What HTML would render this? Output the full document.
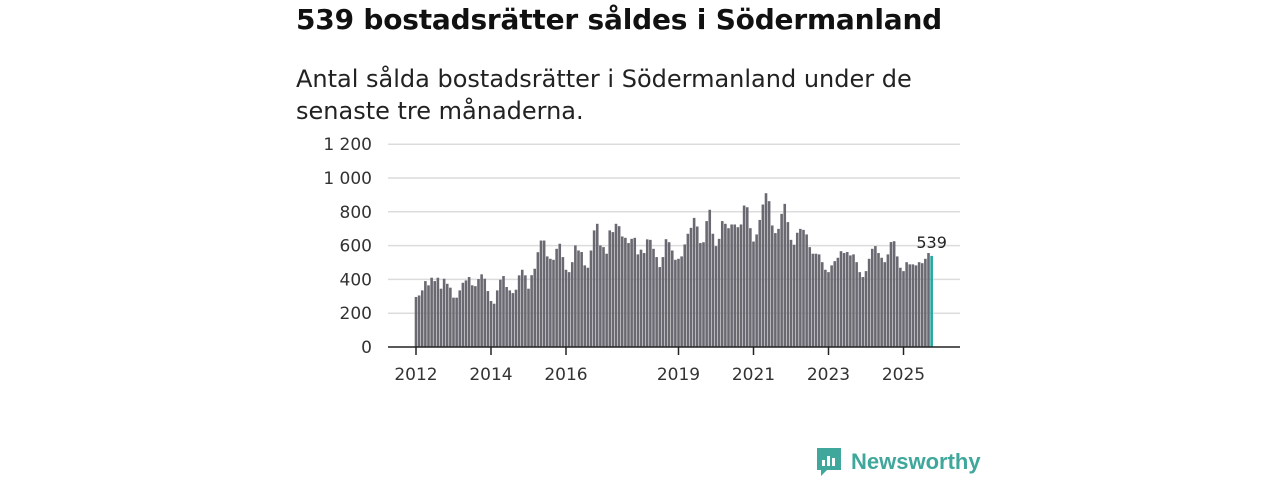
<!DOCTYPE html>
<html><head><meta charset="utf-8"><style>
body{margin:0;width:1280px;height:480px;background:#fff;font-family:"Liberation Sans",sans-serif;overflow:hidden;position:relative}
#title{position:absolute;left:296px;top:3px;font-size:28px;font-weight:bold;color:#111;margin:0;font-family:"DejaVu Sans","Liberation Sans",sans-serif;letter-spacing:-0.2px}
#sub{position:absolute;left:296px;top:63px;font-size:24px;line-height:32px;color:#222;width:660px;font-family:"DejaVu Sans","Liberation Sans",sans-serif}
svg{position:absolute;left:0;top:0}
</style></head><body>
<h1 id="title">539 bostadsrätter såldes i Södermanland</h1>
<div id="sub">Antal sålda bostadsrätter i Södermanland under de<br>senaste tre månaderna.</div>
<svg id="chart" width="1280" height="480"></svg>
<script>
const values=[296,305,335,390,365,410,390,410,345,404,374,351,
292,292,335,380,394,414,365,360,402,430,404,331,
272,256,335,398,420,355,335,319,339,424,457,424,
345,425,463,561,630,630,
536,522,516,581,611,532,457,443,502,601,571,562,483,469,571,690,729,601,591,552,690,680,729,715,654,646,615,640,646,548,576,556,637,634,581,532,473,532,638,620,571,516,
522,536,607,670,705,764,713,615,620,745,812,670,597,640,745,729,703,725,725,709,725,837,827,703,624,666,752,843,910,863,719,674,699,788,847,739,634,605,676,699,693,666,591,552,
552,548,502,457,443,483,508,528,567,556,562,542,548,502,443,414,449,522,581,597,556,528,502,548,621,626,536,469,449,502,489,489,483,502,496,522,556,539];
const yTicks=[0,200,400,600,800,1000,1200];
const yTickLabels=["0","200","400","600","800","1 000","1 200"];
const xTickYears=[2012,2014,2016,2019,2021,2023,2025];
const startYear=2012;
const NS="http://www.w3.org/2000/svg";
const svg=document.getElementById('chart');
const y0=347,pxPer=169/1000,x0=416,step=3.125;
const yScale=v=>y0-v*pxPer;
const xScale=i=>x0+i*step;
function mk(t,a){const e=document.createElementNS(NS,t);for(const k in a)e.setAttribute(k,a[k]);svg.appendChild(e);return e;}
yTicks.forEach((t,i)=>{
  if(t>0){const g=mk('line',{x1:388,x2:960,y1:yScale(t),y2:yScale(t),stroke:'#dcdcdc','stroke-width':1.5});
  
  }
  const l=mk('text',{x:372,y:yScale(t)+6,'text-anchor':'end','font-size':17,fill:'#333','font-family':'DejaVu Sans, Liberation Sans, sans-serif'});
  l.textContent=yTickLabels[i];
  
  
});
values.forEach((v,i)=>{
  const last=i===values.length-1;
  const r=mk('rect',{x:xScale(i)-1.3,y:yScale(v),width:2.6,height:v*pxPer,fill:last?'#1fa89e':'#6a6971'});
  
  
});
const li=values.length-1;
const vl=mk('text',{x:xScale(li),y:yScale(values[li])-8,'text-anchor':'middle','font-size':16,fill:'#222','font-family':'DejaVu Sans, Liberation Sans, sans-serif'});
vl.textContent=String(values[li]);


const ax=mk('line',{x1:388,x2:960,y1:y0,y2:y0,stroke:'#222','stroke-width':1.5});


xTickYears.forEach(yr=>{
  const x=xScale((yr-startYear)*12);
  const t=mk('line',{x1:x,x2:x,y1:y0,y2:y0+8,stroke:'#222','stroke-width':1.5});
  
  
  const l=mk('text',{x:x,y:380,'text-anchor':'middle','font-size':17,fill:'#333','font-family':'DejaVu Sans, Liberation Sans, sans-serif'});
  l.textContent=String(yr);
  
  
});
</script>
<div style="position:absolute;left:815px;top:446px;height:32px;display:flex;align-items:center">
<svg width="28" height="32" viewBox="0 0 28 32" style="position:static"><path d="M2 2h24v22H12l-6 6v-6H2z" fill="#3fa79b"/><rect x="7" y="14" width="3" height="6" fill="#fff"/><rect x="12" y="10" width="3" height="10" fill="#fff"/><rect x="17" y="12" width="3" height="8" fill="#fff"/></svg>
<span style="font-size:22px;font-weight:bold;color:#3fa79b;margin-left:8px;font-family:'Liberation Sans',sans-serif">Newsworthy</span>
</div>
</body></html>
